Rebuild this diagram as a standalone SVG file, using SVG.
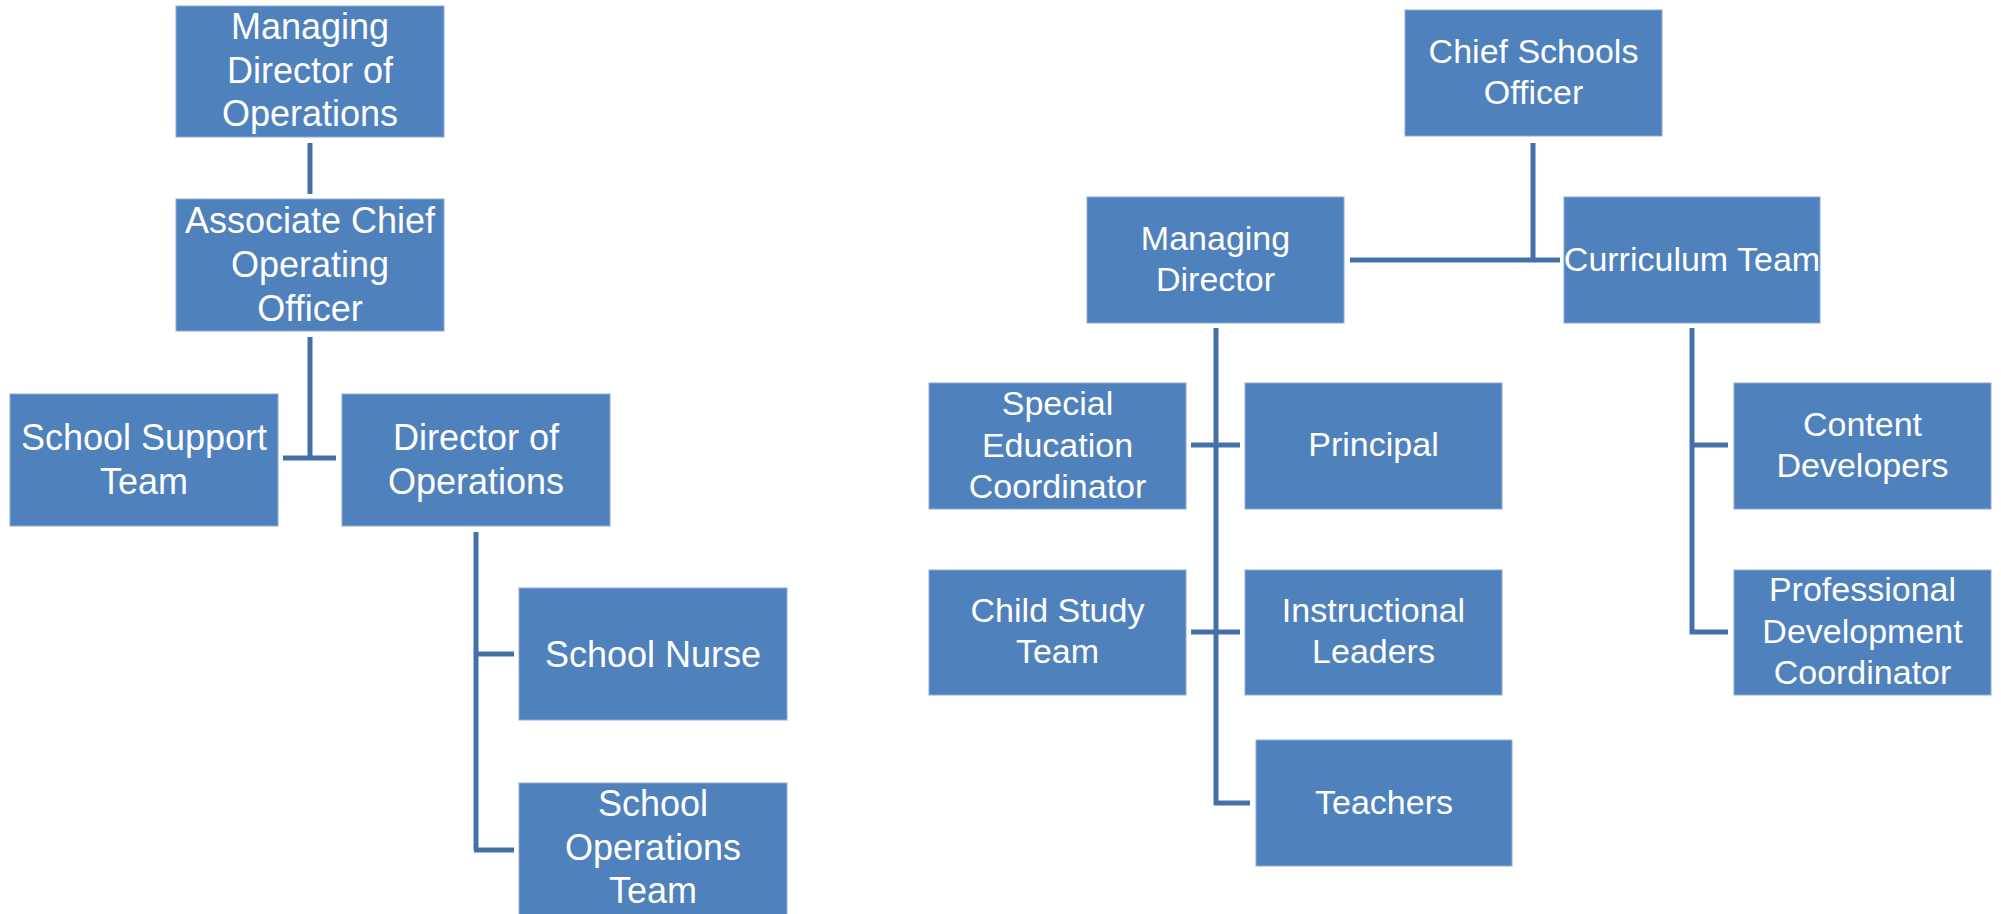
<svg xmlns="http://www.w3.org/2000/svg" width="2001" height="914" viewBox="0 0 2001 914">
<style>
.box{fill:#4F81BD;stroke:#8eaad6;stroke-width:1}
.t{font-family:"Liberation Sans",Arial,sans-serif;fill:#fff;text-anchor:middle}
.l{font-size:36px}
.r{font-size:34px}
.c{stroke:#4470A8;stroke-width:5;fill:none}
</style>
<rect width="2001" height="914" fill="#fff"/>
<g id="connectors">
<path class="c" d="M310 143V194"/>
<path class="c" d="M310 337V458M283 458H336"/>
<path class="c" d="M476 532V850M474 654H514M474 850H514"/>
<path class="c" d="M1533 143V260M1350 260H1560"/>
<path class="c" d="M1216 328V805M1191 445H1240M1191 632H1240M1214 803H1250"/>
<path class="c" d="M1692 328V634M1690 445H1728M1690 632H1728"/>
</g>
<g id="mdo"><rect class="box" x="176" y="6" width="268" height="131"/><text class="t l"><tspan x="310" y="39">Managing</tspan><tspan x="310" y="82.5">Director of</tspan><tspan x="310" y="126">Operations</tspan></text></g>
<g id="acoo"><rect class="box" x="176" y="199" width="268" height="132"/><text class="t l"><tspan x="310" y="233">Associate Chief</tspan><tspan x="310" y="277">Operating</tspan><tspan x="310" y="321">Officer</tspan></text></g>
<g id="sst"><rect class="box" x="10" y="394" width="268" height="132"/><text class="t l"><tspan x="144" y="450">School Support</tspan><tspan x="144" y="494">Team</tspan></text></g>
<g id="doo"><rect class="box" x="342" y="394" width="268" height="132"/><text class="t l"><tspan x="476" y="450">Director of</tspan><tspan x="476" y="494">Operations</tspan></text></g>
<g id="sn"><rect class="box" x="519" y="588" width="268" height="132"/><text class="t l" x="653" y="667">School Nurse</text></g>
<g id="sot"><rect class="box" x="519" y="783" width="268" height="132"/><text class="t l"><tspan x="653" y="816">School</tspan><tspan x="653" y="860">Operations</tspan><tspan x="653" y="903">Team</tspan></text></g>
<g id="cso"><rect class="box" x="1405" y="10" width="257" height="126"/><text class="t r"><tspan x="1533.5" y="63">Chief Schools</tspan><tspan x="1533.5" y="104">Officer</tspan></text></g>
<g id="md"><rect class="box" x="1087" y="197" width="257" height="126"/><text class="t r"><tspan x="1215.5" y="250">Managing</tspan><tspan x="1215.5" y="291">Director</tspan></text></g>
<g id="ct"><rect class="box" x="1564" y="197" width="256" height="126"/><text class="t r" x="1692" y="271">Curriculum Team</text></g>
<g id="sec"><rect class="box" x="929" y="383" width="257" height="126"/><text class="t r"><tspan x="1057.5" y="415">Special</tspan><tspan x="1057.5" y="456.5">Education</tspan><tspan x="1057.5" y="498">Coordinator</tspan></text></g>
<g id="principal"><rect class="box" x="1245" y="383" width="257" height="126"/><text class="t r" x="1373.5" y="456">Principal</text></g>
<g id="cd"><rect class="box" x="1734" y="383" width="257" height="126"/><text class="t r"><tspan x="1862.5" y="436">Content</tspan><tspan x="1862.5" y="477">Developers</tspan></text></g>
<g id="cst"><rect class="box" x="929" y="570" width="257" height="125"/><text class="t r"><tspan x="1057.5" y="622">Child Study</tspan><tspan x="1057.5" y="663">Team</tspan></text></g>
<g id="il"><rect class="box" x="1245" y="570" width="257" height="125"/><text class="t r"><tspan x="1373.5" y="622">Instructional</tspan><tspan x="1373.5" y="663">Leaders</tspan></text></g>
<g id="pdc"><rect class="box" x="1734" y="570" width="257" height="125"/><text class="t r"><tspan x="1862.5" y="601">Professional</tspan><tspan x="1862.5" y="642.5">Development</tspan><tspan x="1862.5" y="684">Coordinator</tspan></text></g>
<g id="teachers"><rect class="box" x="1256" y="740" width="256" height="126"/><text class="t r" x="1384" y="814">Teachers</text></g>
</svg>
